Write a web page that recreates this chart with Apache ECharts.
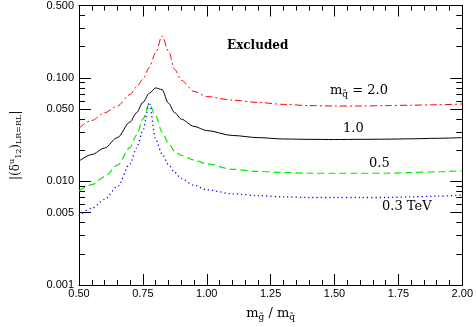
<!DOCTYPE html>
<html>
<head>
<meta charset="utf-8">
<script src="https://cdn.jsdelivr.net/npm/echarts@6/dist/echarts.min.js"></script>
<style>
  html, body { margin: 0; padding: 0; background: #fff; }
  #main { width: 476px; height: 327px; }
</style>
</head>
<body>
<div id="main"></div>
<script>
// gluino / squark mass ratio
const ratio = [0.5, 0.55, 0.6, 0.65, 0.7, 0.725, 0.75, 0.775, 0.8, 0.825, 0.85, 0.875, 0.9, 0.95,
  1.0, 1.1, 1.2, 1.3, 1.4, 1.5, 1.6, 1.7, 1.8, 1.9, 2.0]

// |(delta^u_12)_LR=RL| bound, one list per squark mass (TeV)
const msq20 = [0.0327, 0.0388, 0.046, 0.0535, 0.069, 0.082, 0.097, 0.126, 0.175, 0.255, 0.182, 0.12, 0.095, 0.074,
  0.066, 0.061, 0.058, 0.0555, 0.054, 0.0535, 0.0535, 0.054, 0.0545, 0.055, 0.056]
const msq10 = [0.0157, 0.0182, 0.021, 0.0265, 0.0375, 0.046, 0.058, 0.071, 0.080, 0.077, 0.057, 0.046, 0.040, 0.034,
  0.031, 0.0278, 0.0265, 0.0257, 0.0255, 0.0254, 0.0255, 0.0256, 0.0258, 0.0261, 0.0265]
const msq05 = [0.0081, 0.0093, 0.0111, 0.0143, 0.0213, 0.028, 0.040, 0.056, 0.043, 0.030, 0.0235, 0.0194, 0.0178, 0.0161,
  0.0148, 0.0131, 0.0125, 0.0122, 0.012, 0.012, 0.012, 0.012, 0.0122, 0.0124, 0.0127]
const msq03 = [0.00465, 0.0055, 0.0067, 0.0089, 0.0148, 0.021, 0.031, 0.058, 0.0254, 0.0185, 0.0145, 0.0122, 0.0107, 0.0092,
  0.0083, 0.0076, 0.0073, 0.0071, 0.007, 0.007, 0.007, 0.007, 0.0071, 0.0072, 0.0074]

const yMajor = [0.001, 0.005, 0.01, 0.05, 0.1, 0.5]
const yMinor = [0.002, 0.003, 0.004, 0.006, 0.007, 0.008, 0.009, 0.02, 0.03, 0.04,
  0.06, 0.07, 0.08, 0.09, 0.2, 0.3, 0.4]

const chart = echarts.init(document.getElementById('main'))

const pairs = (ys) => ratio.map((x, i) => [x, ys[i]])

const serif = 'DejaVu Serif'
const richMain = { fontFamily: serif, fontSize: 13, lineHeight: 16, color: '#000' }
const richSub = { fontFamily: serif, fontSize: 9, padding: [8, 0, 0, 0], color: '#000' }

const xAxisBase = {
  type: 'value',
  min: 0.5,
  max: 2.0,
  interval: 0.25,
  splitLine: { show: false },
  axisLine: { show: true, onZero: false, lineStyle: { color: '#000', width: 1 } },
  axisTick: { show: true, inside: true, length: 11, lineStyle: { color: '#000' } },
  minorTick: { show: true, splitNumber: 5, length: 5, lineStyle: { color: '#000' } }
}

const yAxisBase = (position, values, len) => ({
  type: 'log',
  position: position,
  min: 0.001,
  max: 0.5,
  splitLine: { show: false },
  axisLine: { show: true, onZero: false, lineStyle: { color: '#000', width: 1 } },
  axisTick: { show: true, inside: true, length: len, customValues: values, lineStyle: { color: '#000' } },
  axisLabel: { show: false }
})

const lineSeries = (name, ys, color, type, width) => ({
  name: name,
  type: 'line',
  data: pairs(ys),
  showSymbol: false,
  smooth: 0.3,
  smoothMonotone: 'x',
  lineStyle: { color: color, width: width, type: type }
})

const note = (text, left, top, extra) => Object.assign({
  text: text,
  left: left,
  top: top,
  padding: 0,
  textStyle: { fontFamily: serif, fontSize: 13, fontWeight: 'normal', color: '#000', rich: { a: richMain, s: richSub } }
}, extra || {})

chart.setOption({
  animation: false,
  grid: { left: 76, right: 12, top: 3, bottom: 39 },
  title: [
    note('Excluded', 227, 40, {
      textStyle: { fontFamily: serif, fontSize: 12, fontWeight: 'bold', color: '#000' }
    }),
    note('{a|m}{s|q\u0303}{a| = 2.0}', 330, 82),
    note('1.0', 343, 122),
    note('0.5', 369, 157),
    note('0.3 TeV', 382, 200)
  ],
  xAxis: [
    Object.assign({}, xAxisBase, {
      position: 'bottom',
      name: '{a|m}{s|g\u0303}{a| / m}{s|q\u0303}',
      nameLocation: 'middle',
      nameGap: 20,
      nameTextStyle: { rich: { a: richMain, s: richSub } },
      axisLabel: {
        formatter: (v) => Number(v).toFixed(2),
        fontFamily: 'Liberation Sans',
        fontSize: 11,
        color: '#000',
        margin: 3
      }
    }),
    Object.assign({}, xAxisBase, { position: 'top', axisLabel: { show: false } })
  ],
  yAxis: [
    Object.assign(yAxisBase('left', yMajor, 12), {
      name: '{a||(\u03b4}{u|u}{s|12}{a|)}{s|LR=RL}{a||}',
      nameLocation: 'middle',
      nameRotate: 90,
      nameGap: 56,
      nameTextStyle: {
        rich: {
          a: { fontFamily: serif, fontSize: 12, lineHeight: 15, color: '#000' },
          u: { fontFamily: serif, fontSize: 8, padding: [0, 0, 7, 0], color: '#000' },
          s: { fontFamily: serif, fontSize: 8, padding: [7, 0, 0, 0], color: '#000' }
        }
      },
      axisLabel: {
        customValues: yMajor,
        formatter: (v) => Number(v).toFixed(3),
        fontFamily: 'Liberation Sans',
        fontSize: 11,
        color: '#000',
        margin: 5
      }
    }),
    yAxisBase('left', yMinor, 6),
    yAxisBase('right', yMajor, 12),
    yAxisBase('right', yMinor, 6)
  ],
  series: [
    lineSeries('2.0', msq20, '#ff0000', [7, 3, 2, 3], 1),
    lineSeries('1.0', msq10, '#000000', 'solid', 1),
    lineSeries('0.5', msq05, '#00ee00', [7, 4], 1.2),
    lineSeries('0.3', msq03, '#0000ff', [1.2, 3], 1.3)
  ]
})
</script>
</body>
</html>
